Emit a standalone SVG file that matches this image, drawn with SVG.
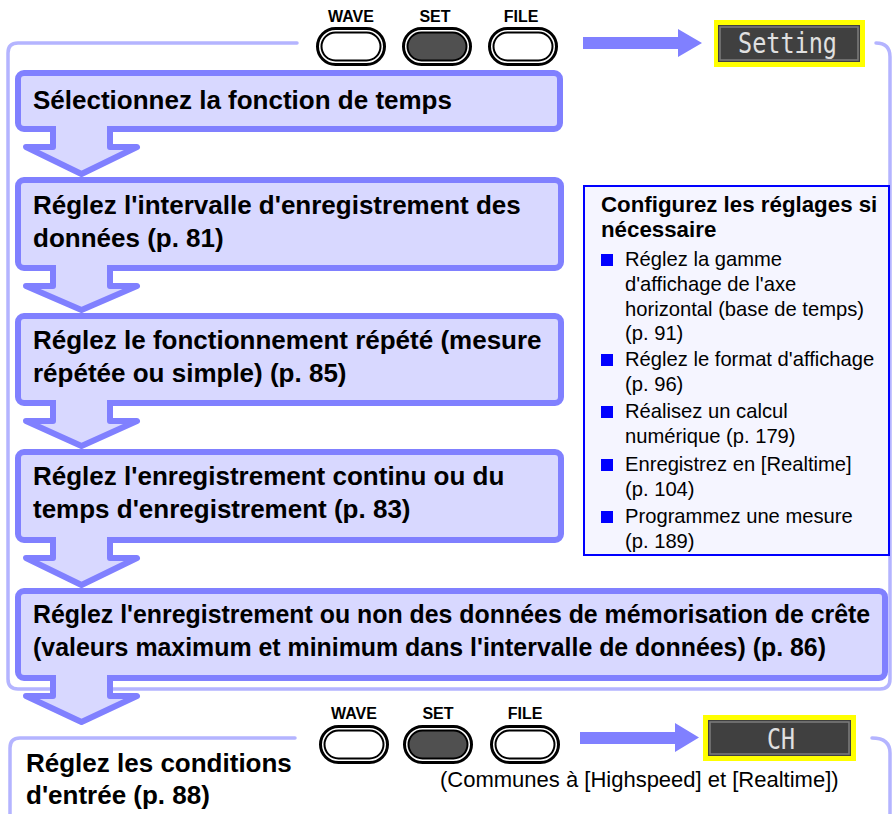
<svg xmlns="http://www.w3.org/2000/svg" xmlns:xlink="http://www.w3.org/1999/xlink" width="892" height="814" viewBox="0 0 892 814">
<style>
.frame{fill:none;stroke:#b4b4ff;stroke-width:3.5;stroke-linecap:round}
.step{fill:#d8d8ff;stroke:#8080ff;stroke-width:6}
.flow{fill:#d8d8ff;stroke:#8080ff;stroke-width:6;stroke-linejoin:round}
.st{font-family:"Liberation Sans",Arial,sans-serif;font-weight:bold;font-size:26px;fill:#000}
.st5{font-size:24.9px}
.lbl{font-family:"Liberation Sans",Arial,sans-serif;font-weight:bold;font-size:16px;fill:#000;text-anchor:middle}
.ptitle{font-family:"Liberation Sans",Arial,sans-serif;font-weight:bold;font-size:22.3px;fill:#000}
.pitem{font-family:"Liberation Sans",Arial,sans-serif;font-size:20.2px;fill:#000}
.note{font-family:"Liberation Sans",Arial,sans-serif;font-size:22px;fill:#000}
.lcd{font-family:"DejaVu Sans Mono","Liberation Mono",monospace;font-size:29px;fill:#e0e0e0}
.bul{fill:#0000ff}
.garrow{fill:#8080ff}
</style>
<defs>
<g id="btnW">
<rect x="1.5" y="1.5" width="67" height="36" rx="18" fill="#fff" stroke="#000" stroke-width="3"/>
<rect x="5.5" y="5.5" width="59" height="28" rx="14" fill="#fff" stroke="#000" stroke-width="2"/>
</g>
<g id="btnD">
<rect x="1.5" y="1.5" width="67" height="36" rx="18" fill="#fff" stroke="#000" stroke-width="3"/>
<rect x="5.5" y="5.5" width="59" height="28" rx="14" fill="#505050" stroke="#000" stroke-width="2"/>
</g>
</defs>

<g id="frames">
<path class="frame" d="M297,43 H18 Q8,43 8,53 V679 Q8,689 18,689 H880 Q890,689 890,679 V57 Q890,43 876,43"/>
<path class="frame" d="M295,738 H20 Q10,738 10,748 V814"/>
<path class="frame" d="M872,738 Q890,738 890,753 V814"/>
</g>

<g id="panel">
<rect x="584" y="186" width="305" height="369" fill="#f5f5ff" stroke="#0000ff" stroke-width="2"/>
<text class="ptitle" x="601" y="212">Configurez les réglages si</text>
<text class="ptitle" x="601" y="237">nécessaire</text>
<rect class="bul" x="601" y="254" width="12" height="12"/>
<text class="pitem" x="625" y="266">Réglez la gamme</text>
<text class="pitem" x="625" y="291">d'affichage de l'axe</text>
<text class="pitem" x="625" y="316">horizontal (base de temps)</text>
<text class="pitem" x="625" y="340">(p. 91)</text>
<rect class="bul" x="601" y="354" width="12" height="12"/>
<text class="pitem" x="625" y="366">Réglez le format d'affichage</text>
<text class="pitem" x="625" y="391">(p. 96)</text>
<rect class="bul" x="601" y="406" width="12" height="12"/>
<text class="pitem" x="625" y="418">Réalisez un calcul</text>
<text class="pitem" x="625" y="443">numérique (p. 179)</text>
<rect class="bul" x="601" y="459" width="12" height="12"/>
<text class="pitem" x="625" y="471">Enregistrez en [Realtime]</text>
<text class="pitem" x="625" y="496">(p. 104)</text>
<rect class="bul" x="601" y="511" width="12" height="12"/>
<text class="pitem" x="625" y="523">Programmez une mesure</text>
<text class="pitem" x="625" y="548">(p. 189)</text>
</g>

<g id="step1">
<rect class="step" x="18" y="73" width="542" height="56" rx="6"/>
<text class="st" x="33" y="109">Sélectionnez la fonction de temps</text>
</g>
<g id="step2">
<rect class="step" x="18" y="180" width="543" height="88" rx="6"/>
<text class="st" x="33" y="214">Réglez l'intervalle d'enregistrement des</text>
<text class="st" x="33" y="247">données (p. 81)</text>
</g>
<g id="step3">
<rect class="step" x="18" y="316" width="543" height="87" rx="6"/>
<text class="st" x="33" y="349">Réglez le fonctionnement répété (mesure</text>
<text class="st" x="33" y="382">répétée ou simple) (p. 85)</text>
</g>
<g id="step4">
<rect class="step" x="18" y="452" width="543" height="88" rx="6"/>
<text class="st" x="33" y="485">Réglez l'enregistrement continu ou du</text>
<text class="st" x="33" y="518">temps d'enregistrement (p. 83)</text>
</g>
<g id="step5">
<rect class="step" x="18" y="591" width="867" height="87" rx="6"/>
<text class="st st5" x="33" y="623">Réglez l'enregistrement ou non des données de mémorisation de crête</text>
<text class="st st5" x="33" y="656">(valeurs maximum et minimum dans l'intervalle de données) (p. 86)</text>
</g>
<g id="step6">
<text class="st" x="26" y="772">Réglez les conditions</text>
<text class="st" x="26" y="804">d'entrée (p. 88)</text>
</g>

<g id="connectors">
<path class="flow" d="M53,126 V147 H26 L81.5,174 L137,147 H110 V126"/>
<path class="flow" d="M53,265 V286 H26 L81.5,310 L137,286 H110 V265"/>
<path class="flow" d="M53,400 V421 H26 L81.5,446 L137,421 H110 V400"/>
<path class="flow" d="M53,537 V558 H26 L81.5,585 L137,558 H110 V537"/>
<path class="flow" d="M53,675 V696 H26 L81.5,722 L137,696 H110 V675"/>
<polygon class="garrow" points="583,37 678,37 678,29 702,43 678,57 678,49 583,49"/>
<polygon class="garrow" points="580,732 675,732 675,723 699,737.5 675,752 675,744 580,744"/>
</g>

<g id="keys-top">
<text class="lbl" x="351" y="22">WAVE</text>
<text class="lbl" x="435" y="22">SET</text>
<text class="lbl" x="521" y="22">FILE</text>
<use xlink:href="#btnW" x="316" y="27"/>
<use xlink:href="#btnD" x="402" y="27"/>
<use xlink:href="#btnW" x="488" y="27"/>
</g>
<g id="display-setting">
<rect x="714" y="20" width="151" height="47" fill="#ffff00"/>
<rect x="718" y="25" width="142" height="37" fill="#404040"/>
<rect x="720" y="27" width="138" height="33" fill="none" stroke="#7c7c7c" stroke-width="1.5"/>
<text class="lcd" x="738" y="53" textLength="99" lengthAdjust="spacingAndGlyphs">Setting</text>
</g>

<g id="keys-bottom">
<text class="lbl" x="354" y="719">WAVE</text>
<text class="lbl" x="438" y="719">SET</text>
<text class="lbl" x="525" y="719">FILE</text>
<use xlink:href="#btnW" x="319" y="725"/>
<use xlink:href="#btnD" x="403" y="725"/>
<use xlink:href="#btnW" x="490" y="725"/>
</g>
<g id="display-ch">
<rect x="703" y="715" width="153" height="46" fill="#ffff00"/>
<rect x="708" y="720" width="143" height="36" fill="#404040"/>
<rect x="710" y="722" width="139" height="32" fill="none" stroke="#7c7c7c" stroke-width="1.5"/>
<text class="lcd" x="767" y="749" textLength="28" lengthAdjust="spacingAndGlyphs">CH</text>
</g>
<text class="note" x="440" y="787">(Communes à [Highspeed] et [Realtime])</text>
</svg>
